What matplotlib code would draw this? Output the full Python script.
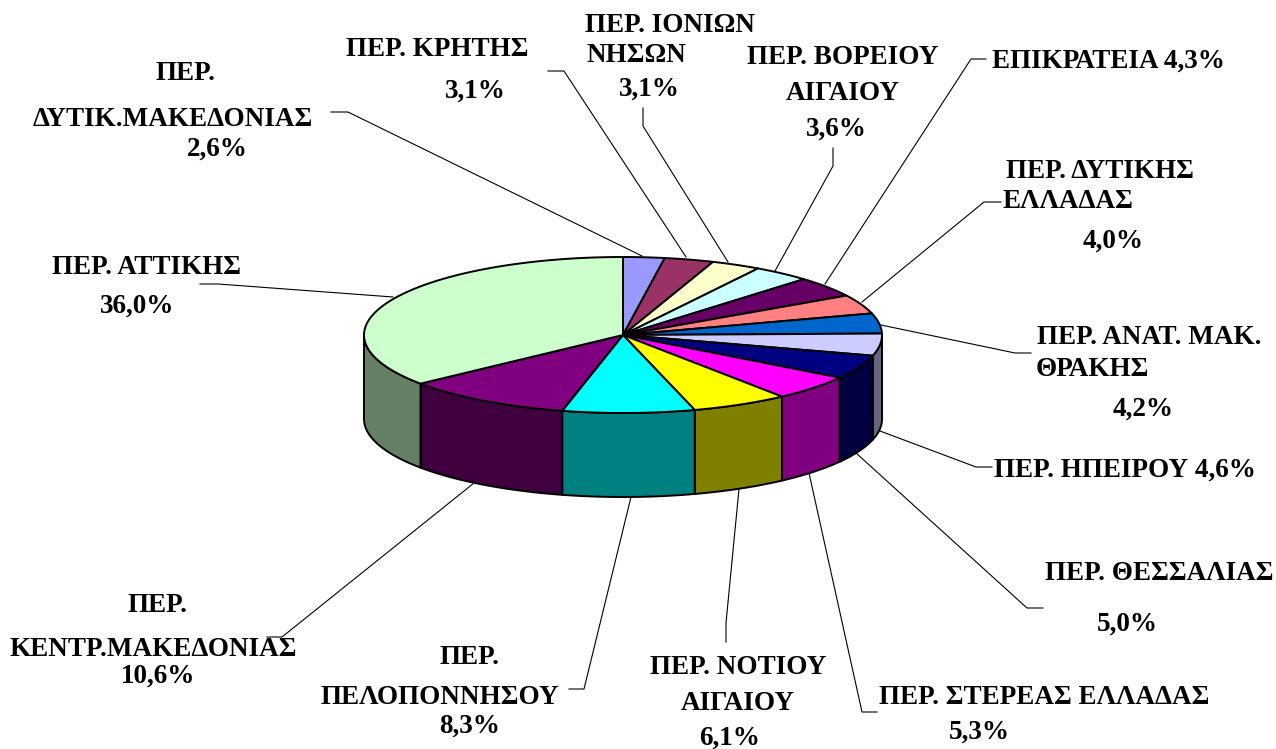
import matplotlib
matplotlib.use('Agg')
import matplotlib.pyplot as plt
from matplotlib.colors import to_rgb
import numpy as np

plt.rcParams['font.family'] = ['Liberation Serif', 'DejaVu Serif']

regions = ['ΔΥΤΙΚ.ΜΑΚΕΔΟΝΙΑΣ', 'ΚΡΗΤΗΣ', 'ΙΟΝΙΩΝ ΝΗΣΩΝ', 'ΒΟΡΕΙΟΥ ΑΙΓΑΙΟΥ', 'ΕΠΙΚΡΑΤΕΙΑ',
           'ΔΥΤΙΚΗΣ ΕΛΛΑΔΑΣ', 'ΑΝΑΤ. ΜΑΚ. ΘΡΑΚΗΣ', 'ΗΠΕΙΡΟΥ', 'ΘΕΣΣΑΛΙΑΣ', 'ΣΤΕΡΕΑΣ ΕΛΛΑΔΑΣ',
           'ΝΟΤΙΟΥ ΑΙΓΑΙΟΥ', 'ΠΕΛΟΠΟΝΝΗΣΟΥ', 'ΚΕΝΤΡ.ΜΑΚΕΔΟΝΙΑΣ', 'ΑΤΤΙΚΗΣ']
values = [2.6, 3.1, 3.1, 3.6, 4.3, 4.0, 4.2, 4.6, 5.0, 5.3, 6.1, 8.3, 10.6, 36.0]
colors = ['#9999FF', '#993366', '#FFFFCC', '#CCFFFF', '#660066', '#FF8080', '#0066CC',
          '#CCCCFF', '#000080', '#FF00FF', '#FFFF00', '#00FFFF', '#800080', '#CCFFCC']

# pie geometry in pixels
cx, cy = 623, 335
rx, ry = 259, 78
depth = 84


def pct(v):
    return ('%.1f%%' % v).replace('.', ',')


# text lines of each label: (text, centre x, centre y), None means the percentage goes there
labels = [
    [('ΠΕΡ.', 185, 73), ('ΔΥΤΙΚ.ΜΑΚΕΔΟΝΙΑΣ', 173, 119), (None, 217, 149)],
    [('ΠΕΡ. ΚΡΗΤΗΣ', 437, 49), (None, 475, 91)],
    [('ΠΕΡ. ΙΟΝΙΩΝ', 670, 25), ('ΝΗΣΩΝ', 636, 56), (None, 649, 89)],
    [('ΠΕΡ. ΒΟΡΕΙΟΥ', 843, 58), ('ΑΙΓΑΙΟΥ', 843, 93), (None, 836, 129)],
    [('ΕΠΙΚΡΑΤΕΙΑ %s', 1108, 61)],
    [('ΠΕΡ. ΔΥΤΙΚΗΣ', 1100, 171), ('ΕΛΛΑΔΑΣ', 1068, 201), (None, 1113, 241)],
    [('ΠΕΡ. ΑΝΑΤ. ΜΑΚ.', 1149, 338), ('ΘΡΑΚΗΣ', 1092, 369), (None, 1143, 409)],
    [('ΠΕΡ. ΗΠΕΙΡΟΥ %s', 1125, 470)],
    [('ΠΕΡ. ΘΕΣΣΑΛΙΑΣ', 1159, 574), (None, 1127, 624)],
    [('ΠΕΡ. ΣΤΕΡΕΑΣ ΕΛΛΑΔΑΣ', 1044, 698), (None, 979, 732)],
    [('ΠΕΡ. ΝΟΤΙΟΥ', 738, 668), ('ΑΙΓΑΙΟΥ', 738, 704), (None, 730, 738)],
    [('ΠΕΡ.', 470, 657), ('ΠΕΛΟΠΟΝΝΗΣΟΥ', 440, 698), (None, 470, 726)],
    [('ΠΕΡ.', 158, 605), ('ΚΕΝΤΡ.ΜΑΚΕΔΟΝΙΑΣ', 153, 649), (None, 158, 676)],
    [('ΠΕΡ. ΑΤΤΙΚΗΣ', 146, 268), (None, 137, 306)],
]

# leader lines, from the pie to the label
leaders = [
    [(642, 256), (348, 112), (331, 112)],
    [(686, 257), (564, 71), (548, 71)],
    [(728, 262), (643, 126), (643, 108)],
    [(775, 271), (833, 166), (833, 148)],
    [(825, 284), (971, 59), (986, 59)],
    [(862, 302), (984, 202), (1001, 202)],
    [(881, 325), (1015, 353), (1031, 353)],
    [(880, 431), (976, 467), (992, 467)],
    [(856, 453), (1027, 608), (1043, 608)],
    [(809, 473), (862, 712), (877, 712)],
    [(739, 489), (726, 623), (726, 642)],
    [(631, 497), (584, 689), (569, 689)],
    [(474, 483), (282, 637), (267, 637)],
    [(393, 297), (218, 284), (200, 284)],
]

fig = plt.figure(figsize=(12.76, 7.49), dpi=100)
ax = fig.add_axes([0, 0, 1, 1])
ax.set_xlim(0, 1276)
ax.set_ylim(749, 0)
ax.axis('off')

for pts in leaders:
    ax.plot([p[0] for p in pts], [p[1] for p in pts], color='black', lw=0.8, zorder=1)

angles = np.cumsum([0] + values) / sum(values) * 2 * np.pi


def rim(a, b):
    t = np.linspace(a, b, 80)
    return cx + rx * np.sin(t), cy - ry * np.cos(t)


# sides only for the front half
for i in range(len(values)):
    a = max(angles[i], np.pi / 2)
    b = min(angles[i + 1], 3 * np.pi / 2)
    if a >= b:
        continue
    x, y = rim(a, b)
    side = tuple(c * 0.5 for c in to_rgb(colors[i]))
    ax.fill(np.r_[x, x[::-1]], np.r_[y, y[::-1] + depth], facecolor=side,
            edgecolor='black', lw=1.4, joinstyle='round', zorder=2)

for i in range(len(values)):
    x, y = rim(angles[i], angles[i + 1])
    ax.fill(np.r_[cx, x], np.r_[cy, y], facecolor=colors[i],
            edgecolor='black', lw=1.4, joinstyle='round', zorder=3)

for lines, v in zip(labels, values):
    for txt, tx, ty in lines:
        if txt is None:
            s = pct(v)
        elif '%s' in txt:
            s = txt % pct(v)
        else:
            s = txt
        ax.text(tx, ty, s, ha='center', va='center', fontsize=19.5, fontweight='bold',
                color='black', zorder=4)

fig.savefig('out.png', dpi=100, facecolor='white')
